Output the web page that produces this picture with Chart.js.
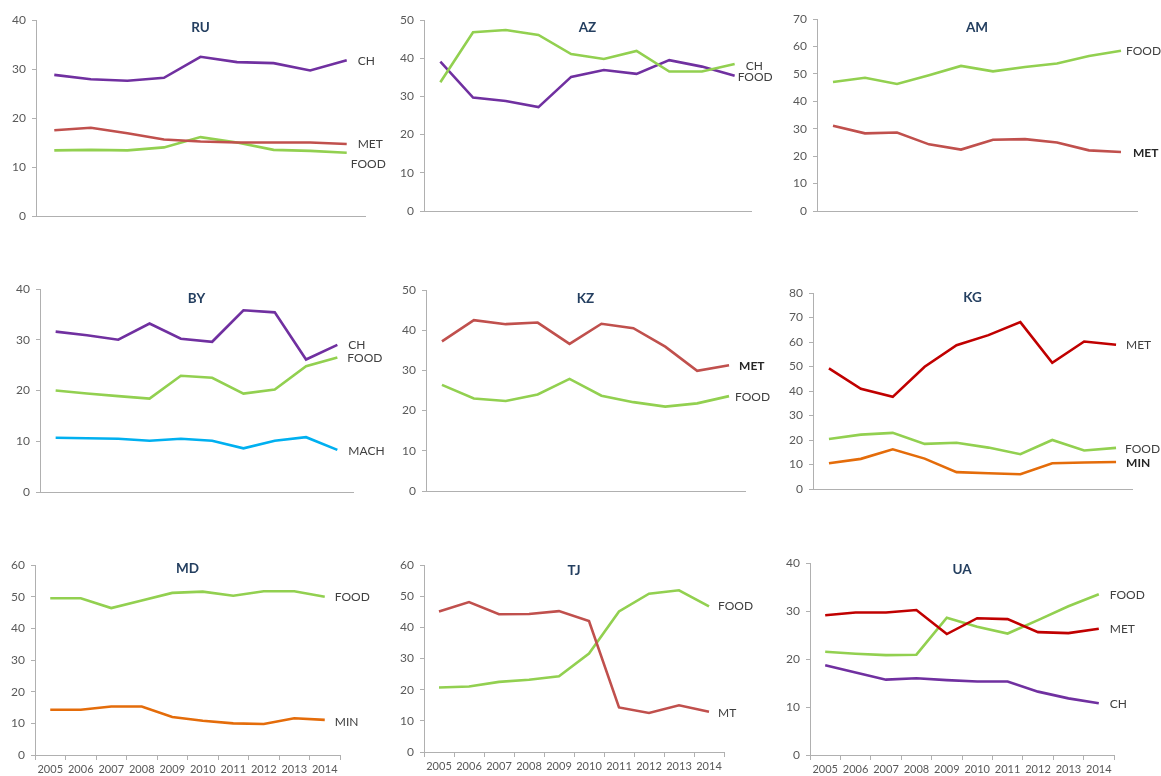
<!DOCTYPE html>
<html lang="en">
<head>
<meta charset="UTF-8">
<title>Industry shares 2005-2014</title>
<script src="https://cdn.jsdelivr.net/npm/chart.js"></script>
<style>
  body { margin: 0; background: #fff; width: 1161px; height: 776px; position: relative; overflow: hidden; }
  .cell { position: absolute; }
</style>
</head>
<body>
<script>
// categories
const years = ['2005', '2006', '2007', '2008', '2009', '2010', '2011', '2012', '2013', '2014'];
const ruYears = ['2005', '2006', '2007', '2008', '2009', '2010', '2011', '2012', '2013'];

// series values
const ruCH   = [28.8, 27.9, 27.6, 28.2, 32.5, 31.4, 31.2, 29.7, 31.8];
const ruMET  = [17.5, 18.0, 16.9, 15.6, 15.2, 15.0, 15.0, 15.0, 14.7];
const ruFOOD = [13.4, 13.5, 13.4, 14.0, 16.1, 15.0, 13.5, 13.3, 12.9];

const azFOOD = [33.7, 46.8, 47.4, 46.1, 41.1, 39.8, 41.9, 36.5, 36.5, 38.5];
const azCH   = [39.1, 29.7, 28.8, 27.2, 35.1, 36.9, 35.9, 39.5, 37.8, 35.4];

const amFOOD = [47.0, 48.6, 46.3, 49.5, 52.9, 50.9, 52.5, 53.8, 56.5, 58.4];
const amMET  = [31.1, 28.3, 28.6, 24.3, 22.4, 26.0, 26.2, 25.0, 22.1, 21.5];

const byCH   = [31.6, 30.9, 30.0, 33.2, 30.2, 29.6, 35.8, 35.4, 26.1, 29.0];
const byFOOD = [20.0, 19.4, 18.9, 18.4, 22.9, 22.5, 19.4, 20.2, 24.8, 26.5];
const byMACH = [10.7, 10.6, 10.5, 10.1, 10.5, 10.1, 8.6, 10.1, 10.8, 8.3];

const kzMET  = [37.2, 42.5, 41.5, 41.9, 36.6, 41.6, 40.5, 35.9, 29.9, 31.3];
const kzFOOD = [26.4, 23.0, 22.4, 24.0, 27.9, 23.7, 22.1, 21.0, 21.8, 23.6];

const kgMET  = [49.2, 40.9, 37.6, 49.9, 58.7, 62.8, 68.1, 51.5, 60.2, 58.9];
const kgFOOD = [20.4, 22.2, 22.9, 18.4, 18.9, 16.9, 14.2, 20.0, 15.7, 16.8];
const kgMIN  = [10.5, 12.3, 16.2, 12.4, 6.9, 6.4, 6.0, 10.5, 10.8, 11.0];

const mdFOOD = [49.5, 49.5, 46.4, 48.8, 51.2, 51.6, 50.3, 51.7, 51.7, 50.0];
const mdMIN  = [14.3, 14.3, 15.3, 15.3, 12.0, 10.8, 10.0, 9.8, 11.6, 11.1];

const tjMT   = [45.1, 48.1, 44.2, 44.3, 45.2, 42.0, 14.3, 12.5, 15.0, 12.9];
const tjFOOD = [20.7, 21.0, 22.5, 23.2, 24.3, 31.6, 45.1, 50.8, 51.9, 46.7];

const uaMET  = [29.1, 29.7, 29.7, 30.2, 25.2, 28.5, 28.3, 25.6, 25.4, 26.3];
const uaFOOD = [21.5, 21.1, 20.8, 20.9, 28.6, 26.7, 25.3, 28.1, 31.0, 33.5];
const uaCH   = [18.7, 17.2, 15.7, 16.0, 15.6, 15.3, 15.3, 13.2, 11.8, 10.8];

// y axis tick labels (max per panel)
const yMax = { RU: 40, AZ: 50, AM: 70, BY: 40, KZ: 50, KG: 80, MD: 60, TJ: 60, UA: 40 };

const PURPLE = '#7030a0', RED = '#c0504d', GREEN = '#92d050', BLUE = '#00b0f0',
      DARKRED = '#c00000', ORANGE = '#e46c0a';
const AXIS = '#b0b0b0', TXT = '#595959', FONT = 'Lato, "Open Sans", sans-serif';

const panels = [
  { title: 'RU', labels: ruYears, box: [36, 20, 365, 216], titleY: 28, series: [
    { name: 'CH', data: ruCH, color: PURPLE, dx: 11, dy: 1 },
    { name: 'MET', data: ruMET, color: RED, dx: 11, dy: 0 },
    { name: 'FOOD', data: ruFOOD, color: GREEN, dx: 4, dy: 11 } ] },
  { title: 'AZ', labels: years, box: [424, 20, 751, 211], titleY: 28, series: [
    { name: 'FOOD', tag: 'CH', data: azFOOD, color: GREEN, dx: 11, dy: 2 },
    { name: 'CH', tag: 'FOOD', data: azCH, color: PURPLE, dx: 3, dy: 1 } ] },
  { title: 'AM', labels: years, box: [817, 19, 1137, 211], titleY: 28, series: [
    { name: 'FOOD', data: amFOOD, color: GREEN, dx: 5, dy: 0 },
    { name: 'MET', data: amMET, color: RED, dx: 12, dy: 1, bold: true } ] },
  { title: 'BY', labels: years, box: [40, 289, 353, 492], titleY: 299, series: [
    { name: 'CH', data: byCH, color: PURPLE, dx: 11, dy: 0 },
    { name: 'FOOD', data: byFOOD, color: GREEN, dx: 10, dy: 1 },
    { name: 'MACH', data: byMACH, color: BLUE, dx: 11, dy: 1 } ] },
  { title: 'KZ', labels: years, box: [426, 290, 745, 491], titleY: 299, series: [
    { name: 'MET', data: kzMET, color: RED, dx: 10, dy: 1, bold: true },
    { name: 'FOOD', data: kzFOOD, color: GREEN, dx: 6, dy: 1 } ] },
  { title: 'KG', labels: years, box: [813, 293, 1132, 489], titleY: 298, series: [
    { name: 'MET', data: kgMET, color: DARKRED, dx: 10, dy: 0 },
    { name: 'FOOD', data: kgFOOD, color: GREEN, dx: 9, dy: 1 },
    { name: 'MIN', data: kgMIN, color: ORANGE, dx: 10, dy: 1, bold: true } ] },
  { title: 'MD', labels: years, box: [35, 565, 340, 755], titleY: 569, showYears: true, series: [
    { name: 'FOOD', data: mdFOOD, color: GREEN, dx: 10, dy: 0 },
    { name: 'MIN', data: mdMIN, color: ORANGE, dx: 10, dy: 2 } ] },
  { title: 'TJ', labels: years, box: [424, 565, 724, 752], titleY: 571, showYears: true, series: [
    { name: 'MT', data: tjMT, color: RED, dx: 9, dy: 1 },
    { name: 'FOOD', data: tjFOOD, color: GREEN, dx: 9, dy: 0 } ] },
  { title: 'UA', labels: years, box: [810, 563, 1114, 755], titleY: 570, showYears: true, series: [
    { name: 'MET', data: uaMET, color: DARKRED, dx: 11, dy: 0 },
    { name: 'FOOD', data: uaFOOD, color: GREEN, dx: 11, dy: 1 },
    { name: 'CH', data: uaCH, color: PURPLE, dx: 11, dy: 1 } ] }
];

// text next to the last point of every line
const endLabels = {
  id: 'endLabels',
  afterDatasetsDraw(chart) {
    const ctx = chart.ctx;
    ctx.save();
    ctx.textAlign = 'left';
    ctx.textBaseline = 'middle';
    chart.data.datasets.forEach((ds, i) => {
      const pts = chart.getDatasetMeta(i).data;
      const last = pts[pts.length - 1];
      ctx.font = (ds.tagBold ? 'bold ' : '') + '12px ' + FONT;
      ctx.fillStyle = ds.tagBold ? '#262626' : '#404040';
      ctx.fillText(ds.tag, last.x + ds.tagDx, last.y + ds.tagDy);
    });
    ctx.restore();
  }
};

const panelTitle = {
  id: 'panelTitle',
  afterDraw(chart, args, opts) {
    const ctx = chart.ctx, a = chart.chartArea;
    ctx.save();
    ctx.font = 'bold 13.5px ' + FONT;
    ctx.fillStyle = '#243f60';
    ctx.textAlign = 'center';
    ctx.textBaseline = 'middle';
    ctx.fillText(opts.text, (a.left + a.right) / 2, opts.y);
    ctx.restore();
  }
};

function drawPanel(p) {
  const [l, t, r, b] = p.box;
  const div = document.createElement('div');
  div.className = 'cell';
  div.style.left = (l - 40) + 'px';
  div.style.top = (t - 20) + 'px';
  div.style.width = (r - l + 90) + 'px';
  div.style.height = (b - t + 42) + 'px';
  const cv = document.createElement('canvas');
  div.appendChild(cv);
  document.body.appendChild(div);

  new Chart(cv, {
    type: 'line',
    data: {
      labels: p.labels,
      datasets: p.series.map(s => ({
        label: s.name,
        data: s.data,
        borderColor: s.color,
        backgroundColor: s.color,
        borderWidth: 2.6,
        pointRadius: 0,
        tension: 0,
        tag: s.tag || s.name,
        tagDx: s.dx,
        tagDy: s.dy,
        tagBold: !!s.bold
      }))
    },
    options: {
      responsive: true,
      maintainAspectRatio: false,
      animation: false,
      layout: { padding: { left: 4, top: 20, right: 50, bottom: p.showYears ? 0 : 20 } },
      plugins: {
        legend: { display: false },
        tooltip: { enabled: false },
        panelTitle: { text: p.title, y: p.titleY - (t - 20) }
      },
      scales: {
        x: {
          offset: true,
          grid: { offset: true, drawOnChartArea: false, drawTicks: !!p.showYears, tickLength: 5, color: AXIS },
          border: { color: AXIS, width: 1 },
          ticks: { display: !!p.showYears, color: TXT, padding: 3, maxRotation: 0, autoSkip: false,
                   font: { family: FONT, size: 11 } },
          afterFit(s) { s.height = p.showYears ? 22 : 2; }
        },
        y: {
          min: 0,
          max: yMax[p.title],
          ticks: { stepSize: 10, color: TXT, padding: 6, font: { family: FONT, size: 12 } },
          grid: { drawOnChartArea: false, tickLength: 4, color: AXIS },
          border: { color: AXIS, width: 1 },
          afterFit(s) { s.width = 36; }
        }
      }
    },
    plugins: [endLabels, panelTitle]
  });
}

panels.forEach(drawPanel);
</script>
</body>
</html>
